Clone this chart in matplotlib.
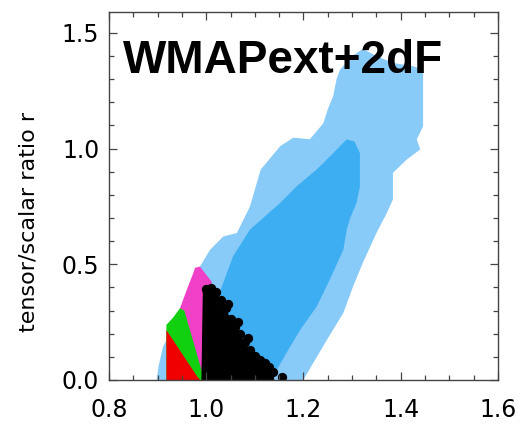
import matplotlib.pyplot as plt
from matplotlib.ticker import MultipleLocator

# 2-sigma (outer) and 1-sigma (inner) contours
outer_ns = [0.898, 0.902, 0.911, 0.925, 0.946, 0.967, 0.987, 1.008, 1.035, 1.063,
            1.090, 1.112, 1.152, 1.179, 1.213, 1.241, 1.250, 1.261, 1.268, 1.275,
            1.300, 1.322, 1.350, 1.384, 1.425, 1.446, 1.446, 1.433, 1.440, 1.412,
            1.384, 1.384, 1.371, 1.350, 1.322, 1.302, 1.282, 1.248, 1.220, 1.203,
            1.199]
outer_r = [0.000, 0.060, 0.143, 0.200, 0.290, 0.375, 0.490, 0.563, 0.620, 0.635,
           0.750, 0.909, 1.010, 1.047, 1.040, 1.110, 1.170, 1.226, 1.300, 1.340,
           1.400, 1.430, 1.400, 1.370, 1.356, 1.340, 1.096, 1.040, 0.996, 0.952,
           0.895, 0.780, 0.720, 0.635, 0.506, 0.404, 0.290, 0.173, 0.073, 0.013,
           0.000]

inner_ns = [0.973, 0.987, 1.015, 1.028, 1.035, 1.055, 1.090, 1.152, 1.186, 1.227,
            1.261, 1.289, 1.305, 1.316, 1.316, 1.309, 1.296, 1.289, 1.282, 1.254,
            1.227, 1.193, 1.165, 1.145, 1.138]
inner_r = [0.000, 0.200, 0.346, 0.380, 0.420, 0.534, 0.650, 0.765, 0.837, 0.909,
           0.980, 1.040, 1.030, 0.980, 0.835, 0.765, 0.700, 0.650, 0.563, 0.433,
           0.317, 0.216, 0.117, 0.043, 0.000]

# model regions
magenta_ns = [0.940, 0.946, 0.960, 0.973, 0.977, 0.987, 1.000, 1.011, 1.005, 0.990]
magenta_r = [0.280, 0.310, 0.390, 0.460, 0.485, 0.490, 0.455, 0.425, 0.000, 0.000]

green_ns = [0.918, 0.918, 0.932, 0.946, 0.955, 0.992, 0.992]
green_r = [0.000, 0.238, 0.270, 0.310, 0.300, 0.030, 0.000]

red_ns = [0.918, 0.918, 0.983, 0.988]
red_r = [0.000, 0.216, 0.010, 0.000]

black_ns = [0.990, 0.993, 1.008, 1.020, 1.035, 1.055, 1.076, 1.096, 1.117, 1.138,
            1.140]
black_r = [0.000, 0.390, 0.400, 0.385, 0.330, 0.245, 0.173, 0.108, 0.073, 0.035,
           0.000]

# individual black points on the ragged edge
dots_ns = [1.000, 1.010, 1.020, 1.030, 1.040, 1.050, 1.060, 1.070, 1.080, 1.090,
           1.100, 1.110, 1.120, 1.130, 1.138, 1.155, 1.045, 1.066, 1.085, 1.104,
           1.125]
dots_r = [0.395, 0.398, 0.380, 0.345, 0.310, 0.265, 0.230, 0.200, 0.165, 0.130,
          0.105, 0.088, 0.072, 0.055, 0.035, 0.014, 0.330, 0.250, 0.180, 0.060,
          0.030]

light_blue = '#88CBF8'
mid_blue = '#3DAEF2'

fig = plt.figure(figsize=(5.22, 4.24), dpi=100)
ax = fig.add_axes([0.2088, 0.1038, 0.7452, 0.8679])

ax.fill(outer_ns, outer_r, color=light_blue, lw=0)
ax.fill(inner_ns, inner_r, color=mid_blue, lw=0)
ax.fill(magenta_ns, magenta_r, color='#F040C8', lw=0)
ax.fill(green_ns, green_r, color='#10D010', lw=0)
ax.fill(red_ns, red_r, color='#F00000', lw=0)
ax.fill(black_ns, black_r, color='black', lw=0)
ax.scatter(dots_ns, dots_r, s=45, color='black', lw=0)

ax.set_xlim(0.8, 1.6)
ax.set_ylim(0.0, 1.59)
ax.xaxis.set_minor_locator(MultipleLocator(0.05))
ax.yaxis.set_minor_locator(MultipleLocator(0.1))

font = 'DejaVu Sans'
ax.tick_params(which='both', direction='in', top=True, right=True, color='#444444', width=0.9)
ax.tick_params(which='major', length=6)
ax.tick_params(which='minor', length=3.5)
ax.tick_params(axis='x', which='major', pad=13)
ax.tick_params(axis='y', which='major', pad=7)
ax.set_xticks([0.8, 1.0, 1.2, 1.4, 1.6])
ax.set_xticklabels(['0.8', '1.0', '1.2', '1.4', '1.6'], fontfamily=font, fontsize=17)
ax.set_yticks([0.0, 0.5, 1.0, 1.5])
ax.set_yticklabels(['0.0', '0.5', '1.0', '1.5'], fontfamily=font, fontsize=17)
for s in ax.spines.values():
    s.set_color('#444444')
    s.set_linewidth(1.0)

ax.text(0.036, 0.834, 'WMAPext+2dF', transform=ax.transAxes, fontfamily='Liberation Sans',
        fontweight='bold', fontsize=33, va='baseline', ha='left')
fig.text(0.054, 0.476, 'tensor/scalar ratio r', rotation=90, ha='center', va='center',
         fontfamily=font, fontsize=16)

fig.savefig('out.png', dpi=100)
